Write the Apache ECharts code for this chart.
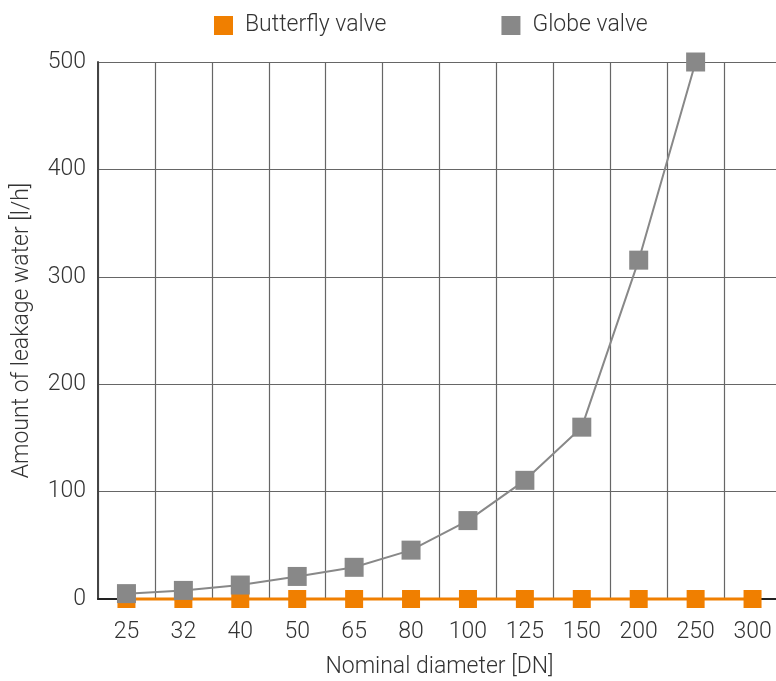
<!DOCTYPE html>
<html><head><meta charset="utf-8">
<script src="https://cdn.jsdelivr.net/npm/echarts@6/dist/echarts.min.js"></script>
<style>html,body{margin:0;padding:0;background:#fff}#c{width:776px;height:681px}</style>
</head><body><div id="c"></div>
<script>
const categories = ['25','32','40','50','65','80','100','125','150','200','250','300'];
const butterfly = [0,0,0,0,0,0,0,0,0,0,0,0];
const globe = [5,8,13,21,29.5,45.5,73,110.5,160,315.5,500,null];
const seriesNames = ['Butterfly valve','Globe valve'];
const yTicks = {min:0,max:500,interval:100};

const font = 'Roboto';
const fs = 23;
const chart = echarts.init(document.getElementById('c'));
chart.setOption({
  animation:false,
  textStyle:{fontFamily:font},
  legend:{
    left:209, top:9, itemWidth:19, itemHeight:19, itemGap:115, icon:'rect',
    textStyle:{fontFamily:font,fontSize:fs,fontWeight:300,color:'#333',padding:[0,0,0,7]},
    data:seriesNames
  },
  grid:{left:98,right:-5,top:62,bottom:82,outerBoundsMode:'none',containLabel:false},
  xAxis:{
    type:'category', data:categories, boundaryGap:true,
    name:'Nominal diameter [DN]', nameLocation:'middle', nameGap:57,
    nameTextStyle:{fontFamily:font,fontSize:fs,fontWeight:300,color:'#333'},
    axisLine:{lineStyle:{color:'#222',width:2}},
    axisTick:{show:false},
    axisLabel:{fontFamily:font,fontSize:fs,fontWeight:300,color:'#333',margin:22},
    splitLine:{show:true,lineStyle:{color:'#666',width:1.2}}
  },
  yAxis:{
    type:'value', min:yTicks.min, max:yTicks.max, interval:yTicks.interval,
    name:'Amount of leakage water [l/h]', nameLocation:'middle', nameGap:64,
    nameTextStyle:{fontFamily:font,fontSize:fs,fontWeight:300,color:'#333'},
    axisLine:{show:true,lineStyle:{color:'#444',width:2}},
    axisTick:{show:false},
    axisLabel:{fontFamily:font,fontSize:fs,fontWeight:300,color:'#333',margin:12},
    splitLine:{show:true,lineStyle:{color:'#666',width:1.2}}
  },
  series:[
    {name:seriesNames[0], type:'line', data:butterfly, symbol:'rect', symbolSize:18,
     itemStyle:{color:'#F07F00'}, lineStyle:{color:'#F07F00',width:3}, clip:false},
    {name:seriesNames[1], type:'line', data:globe, symbol:'rect', symbolSize:19,
     smooth:false, itemStyle:{color:'#888888'}, lineStyle:{color:'#888888',width:2}, clip:false}
  ]
});
</script></body></html>
